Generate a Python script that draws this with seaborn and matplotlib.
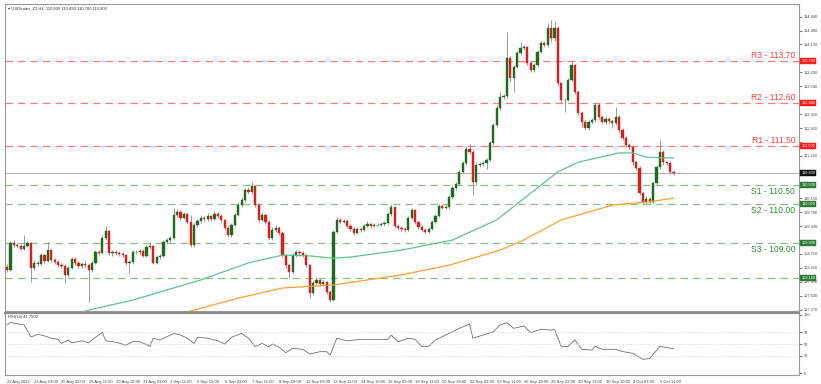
import numpy as np
import pandas as pd
import matplotlib
matplotlib.use("Agg")
import matplotlib.pyplot as plt
import seaborn as sns

# ==========================================
# 1. DATA
# ==========================================
first_open = 108.37
close = [108.30, 108.99, 108.94, 108.91, 108.84, 108.91, 108.99, 108.35, 108.48, 108.45,
         108.68, 108.53, 108.81, 108.55, 108.50, 108.42, 108.40, 108.17, 108.35, 108.58,
         108.48, 108.40, 108.45, 108.42, 108.29, 108.48, 108.76, 108.73, 109.12, 109.30,
         108.73, 108.76, 108.73, 108.71, 108.68, 108.48, 108.50, 108.76, 108.76, 108.79,
         108.66, 108.89, 108.91, 108.48, 108.63, 108.66, 109.02, 109.07, 109.12, 109.72,
         109.79, 109.64, 109.74, 109.53, 108.94, 109.45, 109.55, 109.65, 109.60, 109.68,
         109.62, 109.75, 109.70, 109.58, 109.38, 109.20, 109.46, 109.72, 109.97, 110.10,
         110.36, 110.31, 110.46, 109.97, 109.59, 109.72, 109.53, 109.12, 109.33, 109.38,
         109.25, 108.68, 108.42, 108.24, 108.68, 108.76, 108.73, 108.68, 108.42, 107.70,
         107.96, 108.04, 107.93, 107.98, 107.73, 107.52, 109.28, 109.59, 109.53, 109.56,
         109.43, 109.35, 109.25, 109.35, 109.33, 109.43, 109.48, 109.43, 109.46, 109.46,
         109.48, 109.51, 109.74, 109.92, 109.43, 109.38, 109.35, 109.33, 109.64, 109.84,
         109.53, 109.41, 109.33, 109.28, 109.35, 109.53, 109.69, 109.95, 109.90, 109.92,
         110.18, 110.41, 110.52, 110.83, 111.06, 111.42, 111.34, 110.57, 111.01, 111.03,
         111.06, 111.14, 111.57, 112.04, 112.48, 112.76, 112.79, 113.77, 113.25, 113.54,
         113.90, 114.03, 114.05, 113.64, 113.46, 113.59, 113.93, 114.16, 114.11, 114.54,
         114.29, 114.54, 113.12, 112.69, 112.69, 113.20, 113.59, 112.89, 112.35, 112.12,
         111.96, 112.12, 112.17, 112.56, 112.25, 112.12, 112.20, 112.14, 112.09, 112.25,
         111.91, 111.70, 111.52, 111.47, 111.08, 110.93, 110.28, 110.05, 110.13, 110.05,
         110.54, 110.95, 111.34, 111.08, 111.06, 110.83, 110.80]
high = [108.45, 109.05, 109.08, 109.00, 108.96, 109.20, 109.04, 109.03, 108.55, 108.53,
        108.74, 108.72, 109.02, 108.85, 108.60, 108.56, 108.48, 108.44, 108.40, 108.63,
        108.64, 108.52, 108.50, 108.55, 108.48, 108.52, 108.80, 108.80, 109.20, 109.43,
        109.33, 108.82, 108.80, 108.78, 108.76, 108.72, 108.56, 108.82, 108.80, 108.84,
        108.83, 108.95, 109.02, 108.95, 108.68, 108.72, 109.06, 109.12, 109.18, 109.90,
        109.86, 109.84, 109.80, 109.78, 109.72, 109.50, 109.62, 109.72, 109.70, 109.76,
        109.72, 109.82, 109.80, 109.74, 109.62, 109.43, 109.52, 109.78, 110.04, 110.18,
        110.42, 110.45, 110.57, 110.50, 110.02, 109.80, 109.76, 109.58, 109.40, 109.45,
        109.42, 109.30, 108.72, 108.46, 108.74, 108.82, 108.80, 108.78, 108.72, 108.46,
        108.02, 108.12, 108.08, 108.05, 108.02, 107.78, 109.33, 109.66, 109.64, 109.62,
        109.60, 109.48, 109.40, 109.40, 109.40, 109.48, 109.55, 109.52, 109.52, 109.50,
        109.54, 109.56, 109.80, 110.00, 109.96, 109.48, 109.42, 109.40, 109.70, 109.90,
        109.88, 109.57, 109.45, 109.37, 109.40, 109.58, 109.75, 110.00, 110.00, 109.98,
        110.24, 110.46, 110.58, 110.88, 111.12, 111.50, 111.55, 111.40, 111.08, 111.08,
        111.12, 111.20, 111.62, 112.10, 112.55, 112.90, 112.85, 114.44, 113.82, 113.60,
        113.96, 114.18, 114.10, 114.08, 113.68, 113.64, 113.98, 114.22, 114.20, 114.67,
        114.75, 114.72, 114.60, 113.16, 112.75, 113.26, 113.70, 113.62, 112.94, 112.40,
        112.18, 112.18, 112.22, 112.62, 112.60, 112.30, 112.26, 112.24, 112.18, 112.50,
        112.30, 111.96, 111.75, 111.58, 111.52, 111.12, 110.98, 110.32, 110.20, 110.18,
        110.60, 111.00, 111.65, 111.40, 111.12, 111.10, 110.89]
low = [108.25, 108.27, 108.90, 108.86, 108.80, 108.81, 108.88, 107.98, 108.30, 108.40,
       108.42, 108.48, 108.50, 108.50, 108.44, 108.37, 108.34, 107.96, 108.12, 108.31,
       108.43, 108.35, 108.36, 108.37, 107.47, 108.24, 108.44, 108.68, 108.70, 109.08,
       108.68, 108.66, 108.68, 108.65, 108.63, 108.42, 108.22, 108.46, 108.72, 108.72,
       108.62, 108.62, 108.85, 108.44, 108.45, 108.58, 108.62, 108.96, 109.02, 109.08,
       109.66, 109.58, 109.60, 109.48, 108.90, 108.90, 109.40, 109.50, 109.54, 109.56,
       109.57, 109.58, 109.64, 109.52, 109.33, 109.15, 109.16, 109.42, 109.68, 109.92,
       110.06, 110.26, 110.27, 109.92, 109.54, 109.55, 109.48, 109.06, 109.08, 109.28,
       109.20, 108.62, 108.36, 108.09, 108.20, 108.62, 108.68, 108.62, 108.38, 107.57,
       107.66, 107.92, 107.88, 107.88, 107.68, 107.47, 107.50, 109.24, 109.48, 109.50,
       109.38, 109.30, 109.20, 109.22, 109.28, 109.30, 109.40, 109.38, 109.40, 109.42,
       109.42, 109.44, 109.47, 109.70, 109.38, 109.33, 109.30, 109.28, 109.30, 109.60,
       109.48, 109.36, 109.28, 109.22, 109.24, 109.32, 109.50, 109.66, 109.86, 109.86,
       109.88, 110.14, 110.36, 110.48, 110.80, 111.02, 111.28, 110.23, 110.50, 110.96,
       110.98, 110.90, 111.10, 111.52, 111.98, 112.44, 112.72, 112.74, 113.15, 112.89,
       113.50, 113.86, 113.98, 113.58, 113.40, 113.42, 113.55, 113.90, 114.06, 114.08,
       114.18, 114.20, 113.06, 112.60, 112.38, 112.65, 113.15, 112.84, 112.30, 111.98,
       111.90, 111.92, 112.06, 112.12, 112.20, 112.06, 112.06, 112.08, 111.96, 112.04,
       111.86, 111.64, 111.46, 111.42, 111.02, 110.88, 110.22, 110.00, 110.00, 110.00,
       110.02, 110.50, 110.90, 111.02, 111.00, 110.78, 110.76]

# moving averages, read at some bar positions
ma_fast_idx = [22, 24, 37, 57, 71, 81, 89, 96, 101, 116, 131, 144, 154, 162, 168, 180, 184, 188, 193, 196]
ma_fast_val = [107.20, 107.26, 107.52, 108.04, 108.48, 108.68, 108.66, 108.60, 108.63, 108.81,
               109.07, 109.59, 110.28, 110.83, 111.08, 111.32, 111.32, 111.21, 111.19, 111.19]
ma_slow_idx = [52, 55, 68, 81, 96, 116, 130, 145, 152, 163, 178, 188, 196]
ma_slow_val = [107.20, 107.26, 107.57, 107.83, 107.91, 108.17, 108.42, 108.81, 109.07, 109.59,
               109.97, 110.05, 110.15]

# RSI(14)
rsi_idx = [0, 1, 5, 7, 8, 9, 11, 13, 15, 16, 18, 19, 22, 24, 26, 28, 29, 32, 35, 37,
           39, 41, 42, 43, 45, 49, 51, 53, 55, 56, 59, 62, 64, 66, 69, 71, 73, 75, 77, 78,
           80, 82, 84, 87, 89, 92, 94, 95, 97, 100, 104, 112, 113, 115, 118, 120, 122, 124, 126, 128,
           130, 133, 136, 137, 140, 143, 145, 147, 149, 152, 154, 157, 160, 161, 163, 165, 167, 169, 172, 173,
           175, 179, 181, 184, 187, 189, 192, 194, 196]
rsi_val = [83, 87, 83, 62.6, 64, 67, 64, 60, 58, 51, 57, 52, 55.5, 52, 61.5, 70, 55.5, 53, 48, 54,
           54, 49, 46, 60, 57, 68, 65.5, 60, 51, 61.5, 60, 55.5, 50, 61.5, 68.4, 60, 45.4, 51, 45, 50,
           44.5, 35, 42.5, 40.8, 32.7, 36.8, 36.8, 31, 60, 55.5, 58, 58, 65.5, 54, 60, 58, 46, 46, 57, 62.6,
           68.4, 77, 84.5, 60, 65.5, 71, 82.8, 86.8, 77, 81, 69.5, 75.3, 74, 75, 45.4, 46, 57, 40.8, 39.6, 46,
           41, 40.8, 37, 34, 23.6, 25, 46, 44, 41.75]

resistance_names = ["R3", "R2", "R1"]
resistance_levels = [113.70, 112.60, 111.50]
support_names = ["S1", "S2", "S3"]
support_levels = [110.50, 110.00, 109.00]
extra_support = 108.10
last_price = 110.80

price_ticks = [107.270, 107.630, 107.990, 108.350, 108.710, 109.070, 109.430, 109.790, 110.150, 110.510,
               110.870, 111.240, 111.600, 111.960, 112.320, 112.680, 113.040, 113.400, 113.760, 114.120,
               114.480, 114.840]
rsi_ticks = [0, 30, 50, 70, 100]
x_labels = ["22 Aug 2022", "23 Aug 19:00", "25 Aug 03:00", "26 Aug 11:00", "29 Aug 19:00",
            "31 Aug 03:00", "1 Sep 11:00", "2 Sep 19:00", "6 Sep 03:00", "7 Sep 11:00",
            "8 Sep 19:00", "12 Sep 03:00", "13 Sep 11:00", "14 Sep 19:00", "16 Sep 03:00",
            "19 Sep 11:00", "20 Sep 19:00", "22 Sep 03:00", "23 Sep 11:00", "26 Sep 19:00",
            "28 Sep 03:00", "29 Sep 11:00", "30 Sep 19:00", "4 Oct 03:00", "5 Oct 11:00"]
header = "USDIndex_Z2,H4  110.820 110.890 110.760 110.800"
rsi_header = "RSI(14) 41.7502"

# ==========================================
# 2. STYLE
# ==========================================
sns.set_style("white")
plt.rcParams["font.family"] = ["Liberation Sans", "DejaVu Sans"]

UP = "#1e6a1e"
DOWN = "#e31a1a"
RED_LINE = "#ff7a7a"
GREEN_LINE = "#86c486"
RED_TXT = "#ff3b3b"
GREEN_TXT = "#2f8f2f"
FRAME = "#9a9a9a"
TINY = 2.8

fig = plt.figure(figsize=(8.21, 3.84), dpi=100)
ax = fig.add_axes([0.0061, 0.190, 0.9671, 0.7995])
ax_rsi = fig.add_axes([0.0061, 0.0234, 0.9671, 0.1615], sharex=ax)

# ==========================================
# 3. CANDLES + AVERAGES
# ==========================================
df = pd.DataFrame({"close": close, "high": high, "low": low})
df["open"] = [first_open] + close[:-1]
df["idx"] = np.arange(len(df))
up = df[df.close > df.open]
down = df[df.close < df.open]
flat = df[df.close == df.open]

ax.vlines(df.idx, df.low, df.high, color="#8a8a8a", lw=0.6, zorder=2)
ax.bar(up.idx, up.close - up.open, bottom=up.open, width=0.62, color=UP,
       edgecolor=UP, lw=0.3, zorder=3)
ax.bar(down.idx, down.close - down.open, bottom=down.open, width=0.62, color=DOWN,
       edgecolor=DOWN, lw=0.3, zorder=3)
ax.hlines(flat.close, flat.idx - 0.35, flat.idx + 0.35, color="#5cc25c", lw=0.8, zorder=3)

sns.lineplot(x=ma_fast_idx, y=ma_fast_val, ax=ax, color="#5fc48a", lw=0.9, zorder=4)
sns.lineplot(x=ma_slow_idx, y=ma_slow_val, ax=ax, color="#ffa033", lw=0.9, zorder=4)

# support / resistance
x_lab = 231.8
for name, lvl in zip(resistance_names, resistance_levels):
    ax.axhline(lvl, color=RED_LINE, lw=0.9, dashes=(6, 4), zorder=1)
    ax.text(x_lab, lvl + 0.03, f"{name} - {lvl:.2f}", color=RED_TXT, fontsize=6.2,
            ha="right", va="bottom")
for name, lvl in zip(support_names, support_levels):
    ax.axhline(lvl, color=GREEN_LINE, lw=0.9, dashes=(6, 4), zorder=1)
    ax.text(x_lab, lvl - 0.05, f"{name} - {lvl:.2f}", color=GREEN_TXT, fontsize=6.2,
            ha="right", va="top")
ax.axhline(extra_support, color=GREEN_LINE, lw=0.9, dashes=(6, 4), zorder=1)
ax.axhline(last_price, color="#b0b0b0", lw=0.7, zorder=1)

ax.set_xlim(-0.6, 232.9)
ax.set_ylim(107.236, 115.164)
ax.yaxis.tick_right()

# tick labels hidden behind the price boxes, as on the terminal
box_levels = resistance_levels + support_levels + [extra_support, last_price]
ax.set_yticks(price_ticks)
ax.set_yticklabels(["" if min(abs(v - b) for b in box_levels) < 0.1 else f"{v:.3f}"
                    for v in price_ticks])
ax.tick_params(axis="y", labelsize=TINY, colors="#444444", length=2, width=0.5, pad=1.5)
ax.tick_params(axis="x", bottom=False, labelbottom=False)
ax.set_xlabel("")
ax.set_ylabel("")

# price boxes on the axis
def axis_box(a, level, text, face):
    a.text(1.003, level, text, transform=a.get_yaxis_transform(), fontsize=TINY,
           color="white", ha="left", va="center", clip_on=False, zorder=10,
           bbox=dict(boxstyle="square,pad=0.25", fc=face, ec=face, lw=0.3))

for lvl in resistance_levels:
    axis_box(ax, lvl, f"{lvl:.3f}", "#ff1a1a")
for lvl in support_levels + [extra_support]:
    axis_box(ax, lvl, f"{lvl:.3f}", "#2e7d32")
axis_box(ax, last_price, f"{last_price:.3f}", "#111111")

ax.text(0.004, 0.992, "\u25be " + header, transform=ax.transAxes, fontsize=3,
        color="#333333", ha="left", va="top")

for s in ax.spines.values():
    s.set_color(FRAME)
    s.set_linewidth(0.8)

# ==========================================
# 4. RSI PANEL
# ==========================================
sns.lineplot(x=rsi_idx, y=rsi_val, ax=ax_rsi, color="#6e6e6e", lw=0.6)
for lvl in [70, 50, 30]:
    ax_rsi.axhline(lvl, color="#c8c8c8", lw=0.6, ls=(0, (1, 2)))
ax_rsi.set_ylim(-3.4, 103.4)
ax_rsi.yaxis.tick_right()
ax_rsi.set_yticks(rsi_ticks)
ax_rsi.set_yticklabels([str(v) for v in rsi_ticks])
ax_rsi.tick_params(axis="y", labelsize=TINY, colors="#444444", length=2, width=0.5, pad=1.5)
ax_rsi.text(0.004, 0.97, rsi_header, transform=ax_rsi.transAxes, fontsize=3,
            color="#333333", ha="left", va="top")

ax_rsi.set_xticks(np.arange(len(x_labels)) * 8)
ax_rsi.set_xticklabels(x_labels, ha="left")
ax_rsi.tick_params(axis="x", labelsize=3, colors="#444444", length=2, width=0.5, pad=1.5)
ax_rsi.set_xlabel("")
ax_rsi.set_ylabel("")

for s in ax_rsi.spines.values():
    s.set_color(FRAME)
    s.set_linewidth(0.8)
ax_rsi.spines["top"].set_linewidth(1.6)
ax_rsi.spines["top"].set_color("#8a8a8a")

fig.savefig("out.png", dpi=100)
